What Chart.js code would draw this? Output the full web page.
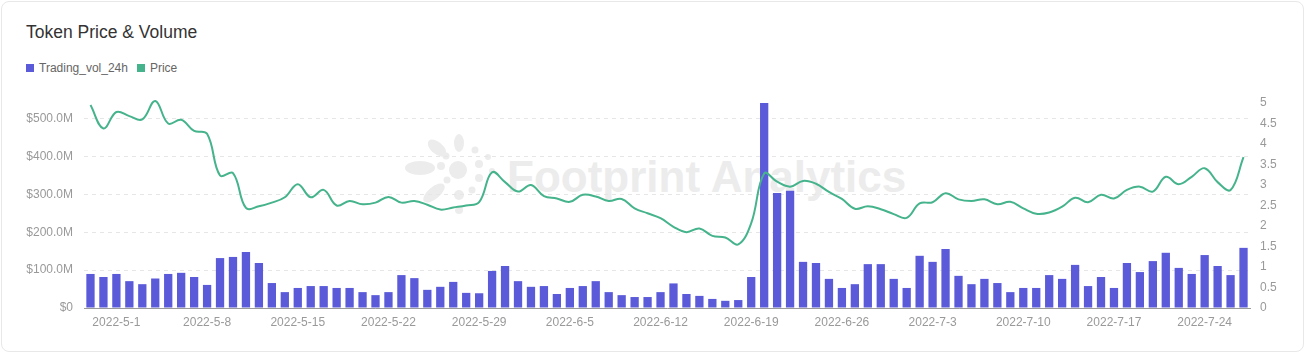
<!DOCTYPE html>
<html>
<head>
<meta charset="utf-8">
<title>Token Price & Volume</title>
<script src="https://cdn.jsdelivr.net/npm/chart.js@4/dist/chart.umd.min.js"></script>
<style>
  html, body { margin: 0; padding: 0; background: #fff; }
  body { width: 1305px; height: 355px; position: relative; overflow: hidden; font-family: "Liberation Sans", Arial, sans-serif; }
  .card { position: absolute; left: 1px; top: 1px; width: 1301px; height: 349px; border: 1px solid #e8e8e8; border-radius: 8px; background: #fff; }
  .title { position: absolute; left: 26px; top: 22px; font-size: 17.5px; color: #333; }
  .legend { position: absolute; left: 26px; top: 61px; font-size: 12px; color: #666; display: flex; align-items: center; }
  .legend .sw { width: 8px; height: 8px; display: inline-block; margin-right: 5px; }
  .legend .item { display: flex; align-items: center; margin-right: 9px; }
  .wm { position: absolute; left: 0; top: 0; width: 1305px; height: 355px; pointer-events: none; }
  .wm-text { position: absolute; left: 507px; top: 152px; font-size: 44px; font-weight: bold; color: #ececec; white-space: nowrap; }
  .chart-box { position: absolute; left: 0; top: 0; width: 1305px; height: 355px; }
</style>
</head>
<body>
<div class="card"></div>
<div class="wm">
  <svg width="1305" height="355" style="position:absolute;left:0;top:0">
    <g fill="#ececec">
      <circle cx="458" cy="170" r="9"/>
      <ellipse cx="420" cy="168" rx="15" ry="7"/>
      <ellipse cx="437" cy="148" rx="11" ry="6" transform="rotate(40 437 148)"/>
      <ellipse cx="459" cy="143" rx="5" ry="9"/>
      <ellipse cx="434" cy="193" rx="13" ry="6" transform="rotate(-40 434 193)"/>
      <circle cx="441" cy="166" r="4"/>
      <circle cx="446" cy="156" r="3.5"/>
      <circle cx="447" cy="180" r="3.5"/>
      <circle cx="475" cy="150" r="3.5"/>
      <circle cx="479" cy="164" r="4"/>
      <circle cx="479" cy="178" r="4"/>
      <circle cx="472" cy="190" r="3.5"/>
      <circle cx="459" cy="195" r="5"/>
      <circle cx="459" cy="210" r="4"/>
      <circle cx="488" cy="157" r="3"/>
      <circle cx="492" cy="171" r="3"/>
    </g>
  </svg>
  <div class="wm-text">Footprint Analytics</div>
</div>
<div class="title">Token Price &amp; Volume</div>
<div class="legend">
  <span class="item"><span class="sw" style="background:#5b5bd9"></span>Trading_vol_24h</span>
  <span class="item"><span class="sw" style="background:#45b38b"></span>Price</span>
</div>
<div class="chart-box"><canvas id="chart" width="1305" height="355"></canvas></div>
<script>
const START_DATE = [2022, 3, 29]; // 2022-4-29 (month is 0-based)
const DAY_COUNT = 90;

// Trading volume, USD millions
const volumeM = [
  90, 82, 90, 71, 63, 78, 90, 93, 82, 61,
  132, 135, 148, 119, 66, 42, 53, 58, 58, 53,
  53, 42, 34, 42, 87, 79, 48, 56, 69, 40,
  39, 98, 111, 71, 56, 58, 37, 53, 58, 71,
  42, 34, 29, 29, 42, 65, 37, 32, 24, 19,
  21, 82, 548, 304, 310, 122, 119, 77, 53, 63,
  116, 116, 77, 53, 138, 122, 156, 85, 63, 77,
  66, 42, 53, 53, 87, 77, 114, 58, 82, 53,
  119, 95, 124, 146, 106, 90, 140, 111, 87, 159
];

// Token price, USD
const price = [
  4.95, 4.38, 4.78, 4.68, 4.6, 5.05, 4.5, 4.59, 4.32, 4.25,
  3.23, 3.29, 2.44, 2.48, 2.57, 2.7, 3.02, 2.7, 2.88, 2.5,
  2.61, 2.53, 2.57, 2.71, 2.57, 2.61, 2.52, 2.4, 2.45, 2.5,
  2.58, 3.31, 3.07, 2.84, 3.0, 2.73, 2.67, 2.59, 2.76, 2.72,
  2.61, 2.66, 2.43, 2.31, 2.19, 1.98, 1.85, 1.94, 1.76, 1.72,
  1.55, 2.07, 3.28, 3.08, 2.96, 3.1, 3.03, 2.83, 2.66, 2.42,
  2.48, 2.41, 2.29, 2.2, 2.55, 2.58, 2.8, 2.65, 2.61, 2.65,
  2.53, 2.59, 2.43, 2.3, 2.33, 2.47, 2.69, 2.58, 2.76, 2.67,
  2.88, 2.96, 2.84, 3.2, 3.02, 3.2, 3.41, 3.07, 2.88, 3.68
];

const leftTicksM = [0, 100, 200, 300, 400, 500];
const rightTicks = [0, 0.5, 1, 1.5, 2, 2.5, 3, 3.5, 4, 4.5, 5];

function buildDates(start, n) {
  const out = [];
  const d = new Date(start[0], start[1], start[2]);
  for (let i = 0; i < n; i++) {
    out.push(`${d.getFullYear()}-${d.getMonth() + 1}-${d.getDate()}`);
    d.setDate(d.getDate() + 1);
  }
  return out;
}
const dates = buildDates(START_DATE, DAY_COUNT);
const labelEvery = 7, labelOffset = 2; // labels from 2022-5-1, weekly

const C_VOL = "#5b5bd9";
const C_PRICE = "#45b38b";
const C_TEXT = "#999";
const FONT = { family: "'Liberation Sans', Arial, sans-serif", size: 12 };

new Chart(document.getElementById("chart"), {
  data: {
    labels: dates,
    datasets: [
      {
        type: "line", label: "Price", data: price, yAxisID: "y1", order: 0,
        borderColor: C_PRICE, borderWidth: 2, pointRadius: 0, tension: 0.4, fill: false, clip: false,
      },
      {
        type: "bar", label: "Trading_vol_24h", data: volumeM.map(v => v * 1e6), yAxisID: "y", order: 1,
        backgroundColor: C_VOL, categoryPercentage: 1, barPercentage: 0.64,
      },
    ],
  },
  options: {
    responsive: false, animation: false,
    layout: { padding: { top: 103, left: 0, right: 0, bottom: 0 } },
    plugins: { legend: { display: false }, tooltip: { enabled: false } },
    scales: {
      x: {
        grid: { display: false, drawTicks: false },
        border: { display: true, color: "#9a9a9a" },
        ticks: {
          color: C_TEXT, font: FONT, autoSkip: false, maxRotation: 0, padding: 7,
          callback: (v, i) => ((i - labelOffset) % labelEvery === 0 ? dates[i] : null),
        },
        afterFit: (s) => { s.height = 47; },
      },
      y: {
        position: "left", min: 0, max: 542e6,
        grid: { color: "#e6e6e6", drawTicks: false },
        border: { display: false, dash: [4, 4] },
        ticks: {
          color: C_TEXT, font: FONT, padding: 11, includeBounds: false,
          callback: (v) => (v === 0 ? "$0" : "$" + (v / 1e6).toFixed(1) + "M"),
        },
        afterBuildTicks: (s) => { s.ticks = leftTicksM.map(m => ({ value: m * 1e6 })); },
        afterFit: (s) => { s.width = 84; },
      },
      y1: {
        position: "right", min: 0, max: 5,
        grid: { display: false, drawTicks: false },
        border: { display: false },
        ticks: { color: C_TEXT, font: FONT, padding: 10, callback: (v) => String(v) },
        afterBuildTicks: (s) => { s.ticks = rightTicks.map(v => ({ value: v })); },
        afterFit: (s) => { s.width = 55; },
      },
    },
  },
});
</script>
</body>
</html>
